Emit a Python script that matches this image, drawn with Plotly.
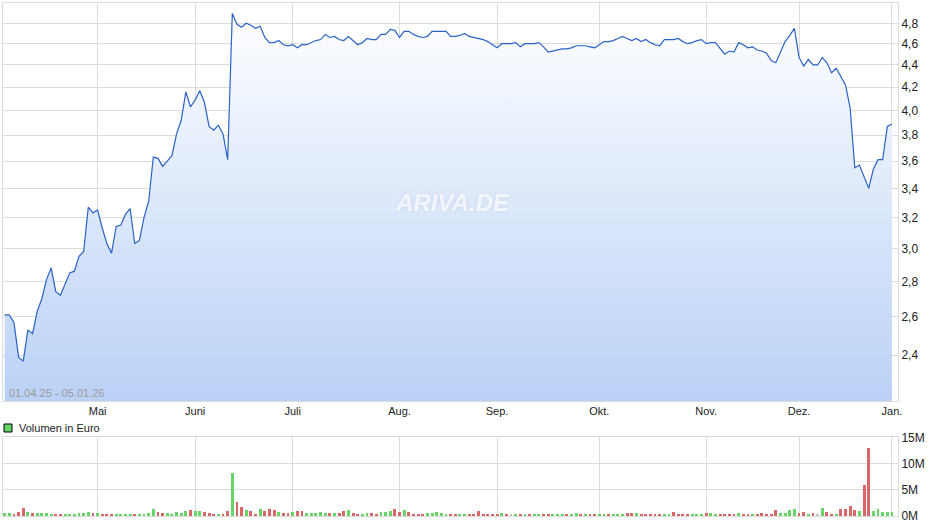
import numpy as np
import pandas as pd
import plotly.graph_objects as go

# ---- data ----
holidays = ["2025-04-18", "2025-04-21", "2025-05-01", "2025-12-24",
            "2025-12-25", "2025-12-26", "2025-12-31"]
trade_days = pd.bdate_range("2025-04-01", "2026-01-05", freq="C", holidays=holidays)
dates = [d.strftime("%Y-%m-%d") for d in trade_days]

price = [
    2.61, 2.61, 2.57, 2.39, 2.37, 2.53, 2.51, 2.63, 2.70, 2.81,
    2.88, 2.74, 2.72, 2.78, 2.85, 2.86, 2.95, 2.98, 3.27, 3.23,
    3.25, 3.13, 3.03, 2.97, 3.14, 3.15, 3.22, 3.26, 3.03, 3.05,
    3.20, 3.31, 3.63, 3.62, 3.56, 3.60, 3.64, 3.81, 3.92, 4.16,
    4.03, 4.09, 4.17, 4.07, 3.87, 3.84, 3.88, 3.81, 3.61, 4.90,
    4.79, 4.76, 4.80, 4.78, 4.75, 4.77, 4.66, 4.61, 4.61, 4.63,
    4.59, 4.58, 4.59, 4.56, 4.59, 4.59, 4.61, 4.63, 4.64, 4.69,
    4.66, 4.67, 4.64, 4.63, 4.67, 4.63, 4.59, 4.61, 4.65, 4.64,
    4.64, 4.69, 4.69, 4.74, 4.73, 4.66, 4.72, 4.72, 4.69, 4.67,
    4.66, 4.67, 4.72, 4.72, 4.72, 4.72, 4.67, 4.67, 4.68, 4.70,
    4.67, 4.66, 4.65, 4.64, 4.62, 4.59, 4.56, 4.60, 4.60, 4.60,
    4.61, 4.57, 4.60, 4.60, 4.60, 4.61, 4.57, 4.52, 4.53, 4.54,
    4.55, 4.55, 4.56, 4.58, 4.58, 4.58, 4.57, 4.56, 4.59, 4.62,
    4.62, 4.63, 4.65, 4.67, 4.65, 4.63, 4.65, 4.62, 4.64, 4.61,
    4.59, 4.58, 4.64, 4.64, 4.64, 4.65, 4.62, 4.60, 4.61, 4.63,
    4.64, 4.60, 4.61, 4.61, 4.55, 4.50, 4.53, 4.52, 4.61, 4.59,
    4.56, 4.57, 4.54, 4.53, 4.51, 4.44, 4.42, 4.52, 4.62, 4.68,
    4.75, 4.47, 4.39, 4.45, 4.40, 4.40, 4.47, 4.42, 4.33, 4.37,
    4.30, 4.22, 4.02, 3.55, 3.57, 3.49, 3.40, 3.54, 3.61, 3.61,
    3.87, 3.89,
]

volume_m = [
    .5, .5, .3, .7, 1.45, .7, .5, .5, .5, .5,
    .3, .3, .3, .3, .3, .3, .5, .5, .7, .5,
    .5, .3, .3, .3, .3, .3, .3, .3, .3, .3,
    .3, .5, 1.25, .7, .5, .5, .15, .7, .5, .9,
    1.05, .9, .9, .7, .5, .3, .3, .3, .9, 8.2,
    2.7, 1.6, 1.05, .9, .3, 1.25, .9, 1.25, 1.05, .7,
    .5, .5, .7, .9, .9, .5, .5, .5, .7, .5,
    .5, .5, .5, .9, 1.05, .5, .3, .3, .5, .5,
    .15, .7, .7, .9, 1.25, .7, 1.05, .7, .3, .3,
    .3, .5, .5, .7, .5, .3, .3, .3, .3, .15,
    .3, .3, .9, .3, .15, .3, .15, .5, .3, .3,
    .3, .3, .15, .3, .15, .3, .15, .3, .3, .3,
    .3, .3, .3, .5, .3, .3, .3, .15, .3, .3,
    .3, .3, .15, .3, .5, .5, .5, .3, .3, .3,
    .3, .15, .3, .3, .7, .3, .3, .15, .3, .3,
    .3, .5, .5, .3, .3, .3, .3, .3, .5, .3,
    .3, .3, .3, .5, .3, .3, 1.05, .5, .5, 1.05,
    1.25, .5, .7, .3, .5, .3, 1.45, .7, .3, .3,
    1.25, 1.25, 1.8, 1.05, .9, 5.8, 12.9, .9, 1.25, .7,
    .7, .7,
]

direction = list(
    "ggrrrgrggg" "grrggggggr" "grrrggggrg" "gggrrggggg" "rggrrrgrrg"
    "rrgrrgrrrg" "rrgrrggggg" "rgrrgrrggr" "rgggrrgrrr" "rggggg" "rrgg"
    "rrrrrrrgrn" "grgrggrrgg" "grggrgrrgg" "rgggrrgrrr" "rrggrrrrgg"
    "grggrrrrgr" "rgrrrrrggg" "grrgrngrrg" "rrrrgrrggg" "gg"
)

month_ticks = ["2025-05-02", "2025-06-02", "2025-07-01", "2025-08-01", "2025-09-01",
               "2025-10-01", "2025-11-03", "2025-12-01", "2026-01-02"]
month_labels = ["Mai", "Juni", "Juli", "Aug.", "Sep.", "Okt.", "Nov.", "Dez.", "Jan."]
price_ticks = [2.4, 2.6, 2.8, 3.0, 3.2, 3.4, 3.6, 3.8, 4.0, 4.2, 4.4, 4.6, 4.8]
vol_ticks = [0, 5e6, 10e6, 15e6]
vol_tick_labels = ["0M", "5M", "10M", "15M"]
period_label = "01.04.25 - 05.01.26"
volume_label = "Volumen in Euro"

# ---- styling ----
color_map = {"g": "#66d466", "r": "#d96767", "n": "#c4c4c4"}
bar_colors = [color_map[c] for c in direction]
volume = [v * 1e6 for v in volume_m]
GRID = "#dcdcdc"
FONT = "Liberation Sans, Arial, sans-serif"

W, H = 940, 526
ML, MR, MT, MB = 3, 42, 3, 9
PW, PH = W - ML - MR, H - MT - MB


def px_x(x):
    return (x - ML) / PW


def px_y(y):
    return (H - MB - y) / PH


fig = go.Figure()
fig.add_trace(go.Scatter(
    x=dates, y=price, mode="lines", xaxis="x", yaxis="y",
    line=dict(color="#2b62c6", width=1.2),
    fill="tozeroy",
    fillgradient=dict(type="vertical", start=2.18, stop=5.0,
                      colorscale=[[0, "#bad1f6"], [1, "#ffffff"]]),
    hoverinfo="skip", showlegend=False,
))
fig.add_trace(go.Bar(
    x=dates, y=volume, xaxis="x2", yaxis="y2",
    marker=dict(color=bar_colors, line=dict(width=0)),
    width=0.62, showlegend=False, hoverinfo="skip",
))

xr = [-0.36, len(dates) - 0.7]
common_x = dict(type="category", range=xr, tickvals=month_ticks, showgrid=True,
                gridcolor=GRID, gridwidth=1, showline=True, linecolor=GRID,
                mirror=True, ticks="", zeroline=False, automargin=False)

fig.update_layout(
    width=W, height=H,
    margin=dict(l=ML, r=MR, t=MT, b=MB, autoexpand=False),
    paper_bgcolor="white", plot_bgcolor="white",
    separators=",.",
    font=dict(family=FONT, size=11, color="#222222"),
    bargap=0,
    xaxis=dict(**common_x, anchor="y", ticktext=month_labels,
               tickfont=dict(size=11, color="#222222")),
    xaxis2=dict(**common_x, anchor="y2", matches="x", showticklabels=False),
    yaxis=dict(type="log", domain=[px_y(401), 1.0],
               range=[np.log10(2.1807), np.log10(5.008)],
               side="right", tickvals=price_ticks, tickformat=".1f",
               showgrid=True, gridcolor=GRID, showline=True, linecolor=GRID,
               mirror=True, ticks="", zeroline=False, automargin=False,
               tickfont=dict(size=12, color="#222222")),
    yaxis2=dict(domain=[px_y(516), px_y(437.3)], range=[0, 15e6], side="right",
                tickvals=vol_ticks, ticktext=vol_tick_labels,
                showgrid=True, gridcolor=GRID, showline=True, linecolor=GRID,
                mirror=True, ticks="", zeroline=False, automargin=False,
                tickfont=dict(size=12, color="#222222")),
    annotations=[
        dict(text=period_label, xref="x domain", yref="y domain", x=0.004, y=0.0,
             xanchor="left", yanchor="bottom", showarrow=False,
             font=dict(size=11, color="#9a9a9a", family=FONT)),
        dict(text="<b><i>ARIVA.DE</i></b>", xref="paper", yref="paper",
             x=px_x(452), y=px_y(203), xanchor="center", yanchor="middle",
             showarrow=False,
             font=dict(size=24, color="rgba(255,255,255,0.75)", family=FONT,
                       shadow="0px 0px 3px rgba(170,180,200,0.45)")),
        dict(text=volume_label, xref="paper", yref="paper", x=px_x(17), y=px_y(428),
             xanchor="left", yanchor="middle", showarrow=False,
             font=dict(size=11, color="#222222", family=FONT)),
    ],
)
# legend swatch
fig.add_shape(type="rect", xref="paper", yref="paper",
              x0=px_x(4), x1=px_x(12), y0=px_y(432), y1=px_y(424),
              fillcolor="#66d466", line=dict(color="#000000", width=1))

fig.write_html("out.html", config={"displayModeBar": False},
               post_script="document.body.style.margin='0';")
